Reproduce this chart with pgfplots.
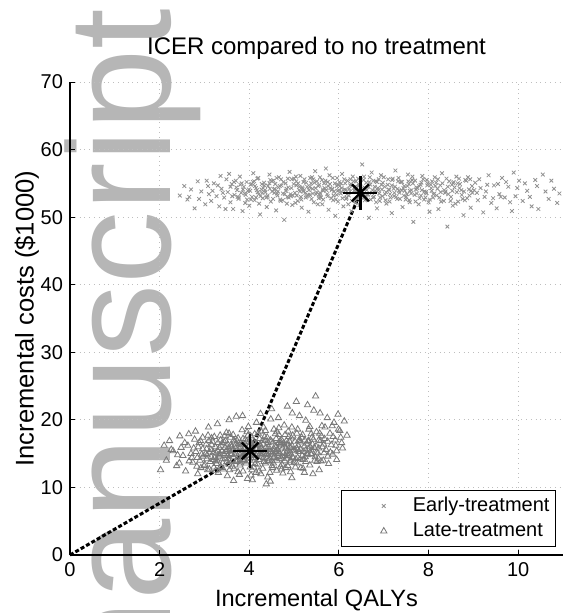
\documentclass[border=0pt]{standalone}
\usepackage{pgfplots}
\pgfplotsset{compat=1.18}
\usepackage{fontspec}
\setmainfont{Liberation Sans}

\definecolor{wmark}{RGB}{182,182,182}
\definecolor{earlyc}{RGB}{145,145,145}
\definecolor{latec}{RGB}{120,120,120}
\definecolor{gridc}{RGB}{190,190,190}

\begin{document}
\begin{tikzpicture}
% watermark behind the axis
\node[rotate=90, anchor=base east, text=wmark, inner sep=0pt,
      font=\fontsize{73}{73}\selectfont] at (50pt,273.5pt) {manuscript};

\begin{axis}[
  scale only axis, width=246.5pt, height=236.5pt,
  xmin=0, xmax=11, ymin=0, ymax=70,
  xtick={0,2,4,6,8,10}, ytick={0,10,20,30,40,50,60,70},
  axis lines=left, axis line style={-, black, line width=0.6pt},
  tick align=inside, major tick length=2.5pt,
  tick style={black, line width=0.5pt},
  grid=major, grid style={dotted, gridc, line width=0.5pt},
  /pgf/number format/assume math mode=true,
  ticklabel style={font=\fontsize{10}{12}\selectfont},
  title={ICER compared to no treatment},
  title style={at={(0.5,1)}, anchor=base, yshift=8pt, font=\fontsize{12}{14}\selectfont},
  xlabel={Incremental QALYs},
  xlabel style={at={(axis description cs:0.5,0)}, anchor=base, yshift=-25.5pt, font=\fontsize{11.8}{14}\selectfont},
  ylabel={Incremental costs (\$1000)},
  ylabel style={at={(axis description cs:-0.074,0.5)}, anchor=base, font=\fontsize{12.8}{15}\selectfont},
  legend style={at={(0.9858,0.0169)}, anchor=south east, draw=black, line width=0.5pt,
    font=\fontsize{10}{12}\selectfont, cells={anchor=west}, row sep=0pt,
    inner xsep=1pt, inner ysep=1.5pt},
  legend image code/.code={%
    \path[draw=none, fill=none] (-9pt,-3pt) rectangle (23.5pt,3pt);
    \draw[#1] plot coordinates {(11pt,0pt)};},
  clip=false,
]
\addplot[only marks, mark=x, mark size=1.3pt, color=earlyc, line width=0.4pt] coordinates {
(2.45,53.2) (2.62,52.6) (2.70,54.1) (2.78,51.3) (2.85,55.3) (2.93,53.8) (3.02,51.9) (3.08,54.6)
(3.15,52.4) (3.21,55.0) (3.27,53.1) (3.33,51.6) (3.38,54.2) (3.44,52.9) (3.49,55.6) (2.55,54.6) (3.10,53.4)
(3.52,53.7) (3.55,56.4) (3.58,52.2) (3.61,54.9) (3.64,51.2) (3.67,53.3) (3.70,55.4) (3.73,54.0)
(3.76,52.7) (3.79,56.0) (3.82,53.6) (3.85,50.9) (3.88,54.5) (3.91,52.1) (3.94,55.2) (3.97,53.9)
(4.00,51.7) (4.03,54.8) (4.06,53.0) (4.09,56.5) (4.12,52.5) (4.15,54.3) (4.18,55.7) (4.21,53.4)
(4.24,50.4) (4.27,54.1) (4.30,52.8) (4.33,55.1) (4.36,53.7) (4.39,51.5) (4.42,54.6) (4.45,56.3)
(4.48,52.3) (4.51,53.8) (4.54,55.4) (4.57,54.2) (4.60,51.0) (4.63,53.2) (4.66,55.9) (4.69,52.6)
(4.72,54.7) (4.75,53.5) (4.78,49.6) (4.81,55.0) (4.84,52.0) (4.87,54.4) (4.90,56.7) (4.93,53.1)
(4.96,51.8) (4.99,54.9)
(5.02,53.6) (5.05,55.3) (5.08,52.4) (5.11,54.0) (5.14,56.1) (5.17,51.4) (5.20,53.9) (5.23,55.6)
(5.26,52.9) (5.29,54.5) (5.32,50.8) (5.35,53.3) (5.38,55.0) (5.41,54.2) (5.44,52.2) (5.47,56.8)
(5.50,53.7) (5.53,51.9) (5.56,54.8) (5.59,53.0) (5.62,55.5) (5.65,52.6) (5.68,54.3) (5.71,57.2)
(5.74,53.4) (5.77,51.1) (5.80,54.9) (5.83,52.8) (5.86,55.8) (5.89,53.8) (5.92,50.2) (5.95,54.6)
(5.98,52.3) (6.01,55.2) (6.04,53.5) (6.07,56.4) (6.10,51.6) (6.13,54.1) (6.16,52.7) (6.19,55.4)
(6.22,53.2) (6.25,54.7) (6.28,50.9) (6.31,56.0) (6.34,53.9) (6.37,52.1) (6.40,54.4) (6.43,55.7)
(6.46,51.8) (6.49,53.6) (6.52,57.8) (6.55,54.2) (6.58,52.5) (6.61,55.1) (6.64,53.3) (6.67,49.9)
(6.70,54.8) (6.73,56.6) (6.76,52.9) (6.79,53.7) (6.82,55.3) (6.85,51.3) (6.88,54.0) (6.91,52.4)
(6.94,56.2) (6.97,53.1)
(7.02,54.5) (7.06,52.0) (7.10,55.6) (7.14,53.4) (7.18,50.6) (7.22,54.2) (7.26,56.9) (7.30,52.7)
(7.34,53.9) (7.38,55.2) (7.42,51.5) (7.46,54.6) (7.50,53.0) (7.54,56.3) (7.58,52.2) (7.62,54.0)
(7.66,49.3) (7.70,55.4) (7.74,53.5) (7.78,51.9) (7.82,54.8) (7.86,56.1) (7.90,52.6) (7.94,53.7)
(7.98,55.0) (8.02,50.8) (8.06,54.3) (8.10,52.9) (8.14,55.9) (8.18,53.2) (8.22,51.2) (8.26,54.7)
(8.30,56.5) (8.34,52.4) (8.38,53.8) (8.42,48.6) (8.46,55.3) (8.50,53.0) (8.54,51.7) (8.58,54.4)
(8.62,56.0) (8.66,52.3) (8.70,54.9) (8.74,53.3) (8.78,50.3) (8.82,55.5) (8.86,52.8) (8.90,54.1)
(8.94,51.4) (8.98,53.6)
(9.04,55.1) (9.10,52.5) (9.16,54.3) (9.22,50.7) (9.28,53.8) (9.34,56.2) (9.40,52.1) (9.46,54.7)
(9.52,51.3) (9.58,53.4) (9.64,55.8) (9.70,52.9) (9.78,54.5) (9.86,50.9) (9.94,53.1) (10.02,55.4)
(10.10,52.4) (10.20,53.9) (10.30,51.6) (10.42,54.6) (10.55,56.3) (10.68,52.7) (10.80,54.2)
(10.92,53.5) (10.45,51.2) (9.90,56.6)
(4.05,54.9) (4.25,53.1) (4.45,55.0) (4.65,54.4) (4.85,53.0) (5.05,54.7) (5.25,53.6) (5.45,55.1)
(5.65,53.9) (5.85,54.2) (6.05,55.0) (6.25,53.8) (6.45,54.6) (6.65,53.4) (6.85,55.2) (7.05,53.7)
(7.25,54.5) (7.45,53.2) (7.65,55.0) (7.85,54.0) (4.15,52.9) (4.55,54.1) (4.95,55.6) (5.35,54.5)
(5.75,55.2) (6.15,54.0) (6.55,55.5) (6.95,54.8) (7.35,53.6) (7.75,54.3) (8.15,54.6) (8.55,55.0)
(5.15,53.0) (5.55,52.8) (5.95,53.3) (6.35,52.6) (6.75,54.0) (7.15,52.9) (7.55,55.3) (7.95,53.5)
(4.35,54.0) (4.75,52.5) (5.18,54.4) (5.58,55.9) (5.98,54.8) (6.38,55.3) (6.78,53.0) (7.18,54.7)
(7.58,53.9) (8.00,52.2)
(3.62,53.1) (3.71,54.4) (3.77,52.9) (3.83,55.0) (3.90,53.5) (3.99,54.1) (4.04,52.6) (4.11,55.3)
(4.17,54.0) (4.22,52.0) (4.29,53.6) (4.34,54.7) (4.41,53.2) (4.47,55.5) (4.53,52.7) (4.58,54.9)
(4.64,53.8) (4.70,52.4) (4.76,55.2) (4.82,53.9) (4.88,52.9) (4.94,54.3) (5.00,55.7) (5.06,53.2)
(5.12,54.5) (5.16,52.6) (5.22,53.8) (5.27,55.1) (5.33,54.0) (5.39,52.7) (5.43,55.6) (5.49,53.4)
(5.54,54.6) (5.60,52.9) (5.64,54.1) (5.70,55.4) (5.75,53.1) (5.81,54.3) (5.87,52.5) (5.91,55.0)
(5.97,53.9) (6.02,54.6) (6.08,52.8) (6.12,55.6) (6.18,53.4) (6.23,54.2) (6.29,52.4) (6.33,55.3)
(6.39,53.7) (6.44,54.9) (6.50,52.9) (6.56,56.0) (6.60,53.2) (6.66,54.5) (6.71,52.6) (6.77,55.4)
(6.81,53.9) (6.87,54.3) (6.92,52.9) (6.98,55.1) (7.03,53.4) (7.09,54.8) (7.13,52.3) (7.20,55.7)
(7.24,53.6) (7.31,54.2) (7.36,52.7) (7.41,55.2) (7.47,53.9) (7.53,54.6) (7.57,52.5) (7.63,55.5)
(7.69,53.3) (7.73,54.4) (7.80,52.8) (7.84,55.1) (7.91,53.8) (7.97,54.7) (8.03,52.6) (8.08,55.3)
(8.13,53.5) (8.20,54.2) (8.24,52.9) (8.31,55.0) (8.37,53.6) (8.43,54.5) (8.49,52.4) (8.56,55.2)
(8.63,53.7) (8.69,54.3) (8.76,52.7) (8.84,55.4) (8.91,53.2) (8.97,54.6)
(3.58,54.5) (3.66,55.2) (3.74,53.0) (3.86,54.1) (3.95,52.6) (4.02,53.9) (4.13,54.6) (4.20,55.8)
(4.31,54.3) (4.38,52.9) (4.46,54.2) (4.56,53.6) (4.61,55.8) (4.68,54.6) (4.79,53.4) (4.86,55.7)
(4.97,53.2) (5.03,52.1) (5.09,55.0) (5.19,54.2) (5.28,53.1) (5.36,55.8) (5.42,53.5) (5.51,55.3)
(5.57,53.3) (5.63,51.9) (5.72,54.0) (5.79,56.2) (5.84,54.0) (5.93,52.6) (6.00,54.0) (6.06,53.8)
(6.14,55.0) (6.21,51.9) (6.27,54.9) (6.36,54.5) (6.42,52.8) (6.48,55.0) (6.54,53.1) (6.62,54.0)
(6.69,55.9) (6.74,53.6) (6.83,52.2) (6.89,55.6) (6.96,54.1) (7.04,52.5) (7.11,54.1) (7.19,55.5)
(7.28,53.0) (7.33,55.8) (7.40,54.0) (7.49,52.6) (7.56,54.9) (7.61,53.5) (7.71,52.3) (7.79,54.6)
(7.88,55.6) (7.93,52.9) (8.05,54.8) (8.11,53.4) (8.21,55.6) (8.28,52.3) (8.35,54.0) (8.44,53.4)
(8.52,54.8) (8.60,52.0) (8.68,55.7) (8.73,54.0) (8.81,52.5) (8.88,55.9) (8.95,53.9)
(9.02,54.0) (9.13,55.6) (9.25,53.0) (9.31,54.8) (9.44,52.8) (9.55,54.9) (9.61,53.0) (9.73,55.2)
(9.82,52.2) (9.98,54.3) (10.15,55.0) (10.26,53.0) (10.38,55.5) (10.61,53.8) (10.74,55.4) (10.87,52.1)
(2.88,52.7) (3.05,55.4) (3.18,53.9) (3.30,54.7) (3.41,53.6) (3.47,51.2) (2.66,53.0) (3.36,56.1)
(3.80,54.8) (3.92,53.3) (4.08,55.2) (4.19,53.7) (4.28,54.9) (4.40,53.0) (4.50,55.3) (4.62,53.5)
(4.71,55.6) (4.83,54.2) (4.92,53.4) (5.04,56.0) (5.13,53.8) (5.21,55.2) (5.31,53.3) (5.40,55.9)
(5.48,54.3) (5.58,53.6) (5.67,55.0) (5.76,54.6) (5.88,53.2) (5.96,55.8) (6.06,54.3) (6.17,52.9)
(6.26,55.6) (6.35,54.0) (6.47,53.3) (6.57,54.4) (6.68,55.2) (6.80,54.5) (6.90,53.5) (7.00,55.9)
(7.12,54.0) (7.23,53.1) (7.32,55.3) (7.44,54.3) (7.52,53.4) (7.64,56.0) (7.72,54.1) (7.83,53.2)
(7.96,55.5) (8.07,53.9) (8.17,55.1) (8.27,53.7) (8.40,55.7) (8.53,53.9) (8.65,55.0) (8.79,53.8)
(8.93,55.6) (9.08,53.6)
};
\addlegendentry{Early-treatment}

\addplot[only marks, mark=triangle, mark size=1.8pt, color=latec, line width=0.4pt] coordinates {
(2.02,12.6) (2.15,14.0) (2.22,16.9) (2.30,15.4) (2.38,13.2) (2.45,17.6) (2.52,14.7) (2.58,12.4)
(2.63,16.2) (2.70,15.0) (2.74,13.7) (2.80,18.3) (2.84,14.4) (2.88,16.6) (2.92,12.9) (2.96,15.7)
(2.48,15.9) (2.66,13.9) (2.78,17.1) (2.90,14.0)
(3.01,13.4) (3.04,16.4) (3.06,14.8) (3.09,18.9) (3.11,12.7) (3.14,15.6) (3.16,17.3) (3.19,14.1)
(3.21,13.0) (3.24,16.0) (3.26,15.1) (3.29,19.4) (3.31,12.2) (3.34,14.6) (3.36,17.0) (3.39,15.4)
(3.41,13.6) (3.44,16.7) (3.46,14.3) (3.49,18.1) (3.51,11.7) (3.54,15.8) (3.56,13.9) (3.59,16.3)
(3.61,14.9) (3.64,17.8) (3.66,12.8) (3.69,15.2) (3.71,20.5) (3.74,14.0) (3.76,16.5) (3.79,13.3)
(3.81,15.9) (3.84,18.5) (3.86,12.4) (3.89,14.7) (3.91,17.1) (3.94,15.5) (3.96,11.3) (3.99,16.1)
(3.03,15.0) (3.13,13.8) (3.23,14.4) (3.33,15.9) (3.43,15.0) (3.53,14.2) (3.63,15.6) (3.73,16.9)
(3.83,14.5) (3.93,13.6) (3.18,16.8) (3.38,12.9) (3.58,17.4) (3.78,11.9) (3.98,19.0) (3.48,15.3)
(3.68,14.8) (3.88,15.7) (3.28,14.0) (3.08,17.7)
(4.01,14.3) (4.03,17.6) (4.06,12.6) (4.08,15.4) (4.11,16.8) (4.13,13.5) (4.16,19.6) (4.18,15.0)
(4.21,14.1) (4.23,17.2) (4.26,12.0) (4.28,15.8) (4.31,16.4) (4.33,13.8) (4.36,18.4) (4.38,14.9)
(4.41,11.5) (4.43,16.0) (4.46,15.3) (4.48,20.1) (4.51,13.2) (4.53,16.7) (4.56,14.6) (4.58,17.9)
(4.61,12.5) (4.63,15.6) (4.66,18.8) (4.68,14.2) (4.71,16.3) (4.73,13.4) (4.76,15.1) (4.78,19.2)
(4.81,12.9) (4.83,16.9) (4.86,14.7) (4.88,17.5) (4.91,13.7) (4.93,15.9) (4.96,21.0) (4.98,14.4)
(4.05,15.9) (4.15,14.8) (4.25,16.1) (4.35,15.2) (4.45,14.0) (4.55,15.7) (4.65,16.6) (4.75,14.5)
(4.85,15.4) (4.95,16.2) (4.10,13.0) (4.20,18.0) (4.30,12.8) (4.40,17.4) (4.50,14.9) (4.60,16.0)
(4.70,13.1) (4.80,17.8) (4.90,15.2) (4.12,16.5) (4.32,14.4) (4.52,15.1) (4.72,17.0) (4.92,12.3)
(4.22,15.5) (4.42,13.9) (4.62,18.2) (4.82,15.8) (4.07,11.1) (4.47,10.9)
(5.02,16.8) (5.05,13.6) (5.08,18.6) (5.11,15.3) (5.14,14.2) (5.17,17.4) (5.20,12.8) (5.23,16.1)
(5.26,19.9) (5.29,14.8) (5.32,15.7) (5.35,13.3) (5.38,17.9) (5.41,16.4) (5.44,21.4) (5.47,14.5)
(5.50,18.2) (5.53,15.1) (5.56,12.6) (5.59,16.9) (5.62,19.1) (5.65,14.0) (5.68,17.2) (5.71,15.6)
(5.74,20.3) (5.77,13.5) (5.80,18.0) (5.83,16.3) (5.86,14.9) (5.89,19.6) (5.92,17.0) (5.95,15.4)
(5.98,20.8) (6.02,18.4) (6.06,16.6) (6.12,19.8) (6.18,17.7) (5.48,23.5) (5.30,22.2) (5.12,20.6)
(5.06,15.8) (5.36,16.0) (5.66,16.4) (5.24,17.0) (5.54,14.3) (4.50,21.6) (4.85,22.0) (3.55,20.0)
(2.81,15.3) (2.86,16.0) (2.94,14.9) (2.99,13.2) (3.05,15.7) (3.10,16.9) (3.15,14.5) (3.20,15.2)
(3.25,13.9) (3.30,16.6) (3.35,15.0) (3.40,14.2) (3.45,17.6) (3.50,15.6) (3.55,13.4) (3.60,16.0)
(3.65,14.5) (3.70,15.8) (3.75,17.3) (3.80,14.1) (3.85,15.4) (3.90,16.4) (3.95,13.9) (4.00,15.1)
(4.04,16.6) (4.09,14.7) (4.14,15.8) (4.19,13.4) (4.24,16.3) (4.29,15.0) (4.34,17.5) (4.39,14.3)
(4.44,15.6) (4.49,16.8) (4.54,13.6) (4.59,15.4) (4.64,14.6) (4.69,16.9) (4.74,15.8) (4.79,13.9)
(4.84,16.4) (4.89,14.8) (4.94,17.3) (4.99,15.5) (5.04,14.2) (5.09,16.2) (5.14,15.7) (5.19,17.8)
(5.25,14.5) (5.31,16.8) (5.37,15.0) (5.43,17.1) (5.49,16.1) (5.55,15.8) (5.61,17.6) (5.67,15.1)
(2.72,14.4) (2.83,13.1) (2.91,16.9) (2.97,14.6) (3.07,12.6) (3.12,15.2) (3.22,17.5) (3.27,13.5)
(3.32,14.8) (3.37,16.2) (3.42,12.7) (3.47,16.9) (3.52,14.7) (3.57,15.4) (3.62,13.1) (3.67,16.7)
(3.72,13.8) (3.77,15.0) (3.82,16.3) (3.87,13.9) (3.92,15.3) (3.97,17.7) (4.02,13.0) (4.07,14.9)
(4.12,17.9) (4.17,15.7) (4.22,12.4) (4.27,14.6) (4.32,18.9) (4.37,15.9) (4.42,14.8) (4.47,17.0)
(4.52,12.9) (4.57,16.1) (4.62,14.0) (4.67,15.2) (4.72,12.7) (4.77,16.6) (4.82,14.3) (4.87,18.3)
(4.92,14.0) (4.97,17.7) (5.03,13.0) (5.08,15.6) (5.13,17.0) (5.18,14.7) (5.23,12.2) (5.28,16.5)
(5.33,18.6) (5.39,14.9) (5.45,15.9) (5.51,13.8) (5.57,18.0) (5.63,16.0) (5.69,18.9) (5.75,16.8)
(5.81,15.2) (5.87,17.5) (5.93,16.2) (5.99,18.6) (6.04,17.4)
(3.52,16.4) (3.58,14.9) (3.64,15.5) (3.70,13.9) (3.76,16.0) (3.82,15.1) (3.88,14.1) (3.94,16.8)
(4.00,14.7) (4.06,15.6) (4.12,14.0) (4.18,16.3) (4.24,14.9) (4.30,15.5) (4.36,13.6) (4.42,16.6)
(4.48,15.2) (4.54,14.4) (4.60,17.2) (4.66,15.0) (4.72,14.3) (4.78,16.1) (4.84,15.0) (4.90,16.8)
(4.96,14.5) (5.02,15.4) (5.08,14.4) (5.14,16.7) (5.20,15.3) (5.26,13.8) (5.32,16.9) (5.38,15.5)
(3.46,15.9) (3.56,12.6) (3.66,17.0) (3.86,17.2) (4.04,11.8) (4.26,18.3) (4.46,12.2) (4.66,17.8)
(4.86,13.2) (5.06,18.0) (5.26,15.5) (5.46,14.0) (3.36,13.1) (3.16,16.3) (2.96,17.4) (2.76,15.8)
(2.56,16.6) (2.40,14.8) (2.26,15.6) (2.10,16.2)
(3.30,15.4) (3.40,16.6) (3.50,13.8) (3.60,15.0) (3.70,16.4) (3.80,13.6) (3.90,15.9) (4.00,16.8)
(4.10,14.4) (4.20,15.2) (4.30,17.0) (4.40,15.0) (4.50,13.9) (4.60,15.3) (4.70,16.5) (4.80,14.7)
(4.90,16.0) (5.00,13.7) (5.10,16.9) (5.20,14.1) (5.30,15.0) (5.40,17.4) (5.50,15.2) (5.60,13.9)
(3.35,17.7) (3.55,18.0) (3.75,12.3) (3.95,18.2) (4.15,12.2) (4.35,16.9) (4.55,18.6) (4.75,12.1)
(4.95,18.9) (5.15,12.9) (5.35,19.0) (5.55,17.0) (5.75,14.6) (5.85,19.1) (5.95,14.1) (6.08,15.8)
(3.25,12.5) (3.05,14.2) (2.85,12.0) (2.65,17.9) (2.44,13.6) (3.85,20.6) (4.25,20.9) (4.65,20.3)
(5.05,22.7) (5.58,21.0) (4.38,10.5) (3.65,11.0) (4.95,11.4) (5.42,12.0)
};
\addlegendentry{Late-treatment}

\addplot[black, line width=1.5pt, dash pattern=on 2pt off 1.1pt, forget plot]
  coordinates {(0,0) (4.02,15.4) (6.48,53.6)};
\addplot[only marks, black, mark=+, mark size=8.5pt, line width=1.2pt, forget plot]
  coordinates {(4.02,15.4) (6.48,53.6)};
\addplot[only marks, black, mark=x, mark size=6pt, line width=1.2pt, forget plot]
  coordinates {(4.02,15.4) (6.48,53.6)};
\end{axis}
\pgfresetboundingbox
\useasboundingbox (-35pt,-29pt) rectangle (247pt,277.5pt);
\end{tikzpicture}
\end{document}
